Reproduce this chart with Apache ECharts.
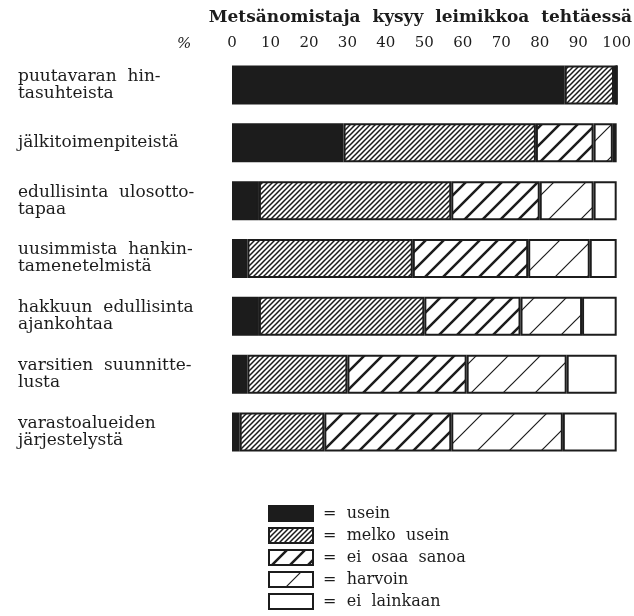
<!DOCTYPE html>
<html>
<head>
<meta charset="utf-8">
<script src="https://cdn.jsdelivr.net/npm/echarts@6/dist/echarts.min.js"></script>
<style>
  html, body { margin: 0; padding: 0; background: #fff; }
  #chart { width: 634px; height: 616px; }
</style>
</head>
<body>
<div id="chart"></div>
<script>
const categories = [
  'puutavaran  hin-\ntasuhteista',
  'jälkitoimenpiteistä',
  'edullisinta  ulosotto-\ntapaa',
  'uusimmista  hankin-\ntamenetelmistä',
  'hakkuun  edullisinta\najankohtaa',
  'varsitien  suunnitte-\nlusta',
  'varastoalueiden\njärjestelystä',
];
const seriesNames = ['usein', 'melko  usein', 'ei  osaa  sanoa', 'harvoin', 'ei  lainkaan'];
const usein = [86.5, 29, 7, 4, 7, 4, 2];
const melkoUsein = [12.8, 50, 50, 43, 43, 26, 22];
const eiOsaaSanoa = [0.7, 15, 23, 30, 25, 31, 33];
const harvoin = [0, 5, 14, 16, 16, 26, 29];
const eiLainkaan = [0, 1, 6, 7, 9, 13, 14];
const xTicks = [0, 10, 20, 30, 40, 50, 60, 70, 80, 90, 100];

const ink = '#1c1c1c';
const serif = '"DejaVu Serif", serif';

// diagonal hatch tile, lines going up to the right
const hatch = (size, lineWidth) => {
  const c = document.createElement('canvas');
  c.width = size;
  c.height = size;
  const ctx = c.getContext('2d');
  ctx.fillStyle = '#fff';
  ctx.fillRect(0, 0, size, size);
  ctx.strokeStyle = ink;
  ctx.lineWidth = lineWidth;
  ctx.beginPath();
  ctx.moveTo(-1, size + 1);
  ctx.lineTo(size + 1, -1);
  ctx.moveTo(-size / 2, size / 2);
  ctx.lineTo(size / 2, -size / 2);
  ctx.moveTo(size / 2, size * 1.5);
  ctx.lineTo(size * 1.5, size / 2);
  ctx.stroke();
  return { image: c, repeat: 'repeat' };
};

const fills = [ink, hatch(5, 1.5), hatch(18, 2.5), hatch(32, 1.2), '#fff'];
const values = [usein, melkoUsein, eiOsaaSanoa, harvoin, eiLainkaan];

const chart = echarts.init(document.getElementById('chart'));
chart.setOption({
  backgroundColor: '#fff',
  animation: false,
  title: {
    text: 'Metsänomistaja  kysyy  leimikkoa  tehtäessä',
    right: 2,
    top: 9,
    padding: 0,
    textStyle: { fontFamily: serif, fontSize: 17, fontWeight: 'bold', color: ink },
  },
  graphic: [
    {
      type: 'text',
      left: 177,
      top: 37,
      style: { text: '%', font: 'italic 15px "DejaVu Serif", serif', fill: ink },
    },
  ],
  legend: {
    orient: 'vertical',
    left: 268,
    top: 505,
    height: 200,
    padding: 0,
    itemWidth: 44,
    itemHeight: 15,
    itemGap: 5,
    selectedMode: false,
    icon: 'rect',
    data: seriesNames,
    formatter: (name) => ' =  ' + name,
    textStyle: { fontFamily: serif, fontSize: 16, color: ink },
  },
  grid: { left: 232, right: 13, top: 56, bottom: 155 },
  xAxis: {
    type: 'value',
    position: 'top',
    min: xTicks[0],
    max: xTicks[xTicks.length - 1],
    interval: 10,
    axisLine: { show: false },
    axisTick: { show: false },
    splitLine: { show: false },
    axisLabel: { fontFamily: serif, fontSize: 15, color: ink, margin: 5 },
  },
  yAxis: {
    type: 'category',
    inverse: true,
    data: categories,
    axisLine: { show: false },
    axisTick: { show: false },
    axisLabel: {
      align: 'left',
      margin: 214,
      fontFamily: serif,
      fontSize: 17,
      lineHeight: 17,
      color: ink,
    },
  },
  series: seriesNames.map((name, i) => ({
    name,
    type: 'bar',
    stack: 'total',
    barWidth: 39,
    data: values[i],
    itemStyle: { color: fills[i], borderColor: ink, borderWidth: 2 },
  })),
});
</script>
</body>
</html>
